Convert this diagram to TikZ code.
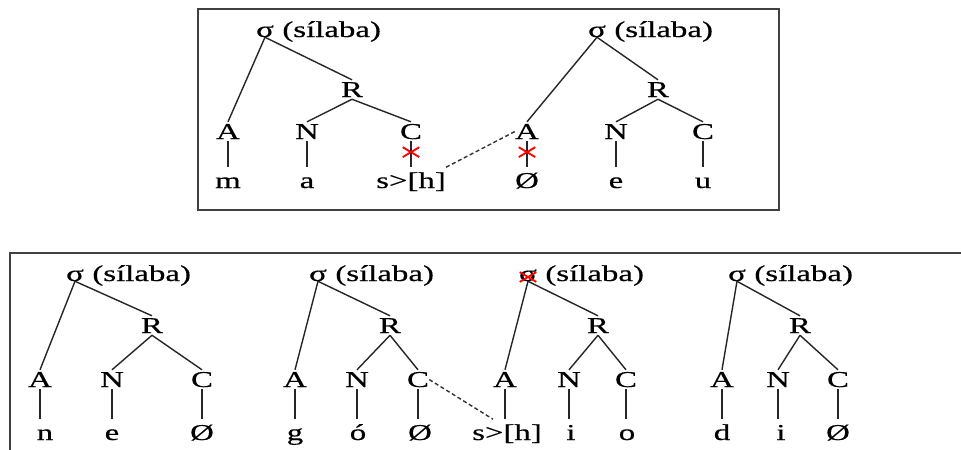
\documentclass[tikz,border=0pt]{standalone}
\usepackage{fontspec}
\setmainfont{Liberation Serif}[FakeStretch=1.45,FakeBold=0.5]
\usetikzlibrary{shapes.misc,calc}
\begin{document}
\begin{tikzpicture}[x=0.75pt,y=-0.75pt,
  lab/.style={font=\fontsize{17}{20}\selectfont, text height=11.2pt, text depth=0pt, inner xsep=0pt, inner ysep=1.5pt, anchor=base},
  leaf/.style={lab, inner ysep=4.2pt},
  sig/.style={lab, inner ysep=0pt, text height=7.8pt},
  word/.style={font=\fontsize{17}{20}\selectfont, inner sep=0pt, anchor=base west},
  edge/.style={line width=1.05pt, black!85},
  dashedge/.style={line width=1.05pt, black!80, dash pattern=on 3pt off 2pt},
  xmark/.style={cross out, draw=red, line width=1.4pt, minimum width=11pt, minimum height=6pt, inner sep=0pt},
  frame/.style={draw=black!75, line width=1.6pt}]
\useasboundingbox (0,0) rectangle (961,450);
\fill[white] (0,0) rectangle (961,450);
% frames
\draw[frame] (198,9) rectangle (779,210);
\draw[frame] (10,451) -- (10,253) -- (962,253);

% ---------- top tree 1 ----------
\node[sig] (ts1) at (265,37) {σ};
\node[word] (ts1t) at ($(ts1.base east)+(8,0)$) {(sílaba)};
\node[lab] (tR1) at (352,97) {R};
\node[lab] (tA1) at (228,139) {A};
\node[lab] (tN1) at (307,139) {N};
\node[lab] (tC1) at (411,139) {C};
\node[leaf] (tl1) at (228,188) {m};
\node[leaf] (tl2) at (307,188) {a};
\node[leaf] (tl3) at (411,188) {s>[h]};
% ---------- top tree 2 ----------
\node[sig] (ts2) at (597,37) {σ};
\node[word] (ts2t) at ($(ts2.base east)+(8,0)$) {(sílaba)};
\node[lab] (tR2) at (658,97) {R};
\node[lab] (tA2) at (527,139) {A};
\node[lab] (tN2) at (616,139) {N};
\node[lab] (tC2) at (703,139) {C};
\node[leaf] (tl4) at (527,188) {Ø};
\node[leaf] (tl5) at (616,188) {e};
\node[leaf] (tl6) at (703,188) {u};

\foreach \s/\r/\a/\n/\c/\la/\lb/\lc in {ts1/tR1/tA1/tN1/tC1/tl1/tl2/tl3, ts2/tR2/tA2/tN2/tC2/tl4/tl5/tl6}{
  \draw[edge] (\s.south) -- (\a.north);
  \draw[edge] (\s.south) -- (\r.north);
  \draw[edge] (\r.south) -- (\n.north);
  \draw[edge] (\r.south) -- (\c.north);
  \draw[edge] (\a.south) -- (\a.south |- \la.north);
  \draw[edge] (\n.south) -- (\n.south |- \lb.north);
  \draw[edge] (\c.south) -- (\c.south |- \lc.north);
}
\draw[dashedge] (tl3.north east) -- (tA2.west);
\node[xmark] (tx1) at ($(tC1.south)!0.42!(tC1.south |- tl3.north)$) {};
\node[xmark] (tx2) at ($(tA2.south)!0.42!(tA2.south |- tl4.north)$) {};

% ---------- bottom trees ----------
\node[sig] (bs1) at (75,281) {σ};
\node[word] (bs1t) at ($(bs1.base east)+(8,0)$) {(sílaba)};
\node[lab] (bR1) at (152,333) {R};
\node[lab] (bA1) at (40,387) {A};
\node[lab] (bN1) at (112,387) {N};
\node[lab] (bC1) at (202,387) {C};
\node[leaf] (bl1) at (45,440) {n};
\node[leaf] (bl2) at (112,440) {e};
\node[leaf] (bl3) at (202,440) {Ø};

\node[sig] (bs2) at (318,281) {σ};
\node[word] (bs2t) at ($(bs2.base east)+(8,0)$) {(sílaba)};
\node[lab] (bR2) at (390,333) {R};
\node[lab] (bA2) at (295,387) {A};
\node[lab] (bN2) at (357,387) {N};
\node[lab] (bC2) at (418,387) {C};
\node[leaf] (bl4) at (295,440) {g};
\node[leaf] (bl5) at (358,440) {ó};
\node[leaf] (bl6) at (420,440) {Ø};

\node[sig] (bs3) at (528,281) {σ};
\node[word] (bs3t) at ($(bs3.base east)+(8,0)$) {(sílaba)};
\node[lab] (bR3) at (598,333) {R};
\node[lab] (bA3) at (505,387) {A};
\node[lab] (bN3) at (569,387) {N};
\node[lab] (bC3) at (626,387) {C};
\node[leaf] (bl7) at (507,440) {s>[h]};
\node[leaf] (bl8) at (571,440) {i};
\node[leaf] (bl9) at (627,440) {o};

\node[sig] (bs4) at (737,281) {σ};
\node[word] (bs4t) at ($(bs4.base east)+(8,0)$) {(sílaba)};
\node[lab] (bR4) at (800,333) {R};
\node[lab] (bA4) at (722,387) {A};
\node[lab] (bN4) at (778,387) {N};
\node[lab] (bC4) at (838,387) {C};
\node[leaf] (bl10) at (722,440) {d};
\node[leaf] (bl11) at (781,440) {i};
\node[leaf] (bl12) at (838,440) {Ø};

\foreach \s/\r/\a/\n/\c/\la/\lb/\lc in {bs1/bR1/bA1/bN1/bC1/bl1/bl2/bl3, bs2/bR2/bA2/bN2/bC2/bl4/bl5/bl6, bs3/bR3/bA3/bN3/bC3/bl7/bl8/bl9, bs4/bR4/bA4/bN4/bC4/bl10/bl11/bl12}{
  \draw[edge] (\s.south) -- (\a.north);
  \draw[edge] (\s.south) -- (\r.north);
  \draw[edge] (\r.south) -- (\n.north);
  \draw[edge] (\r.south) -- (\c.north);
  \draw[edge] (\a.south) -- (\a.south |- \la.north);
  \draw[edge] (\n.south) -- (\n.south |- \lb.north);
  \draw[edge] (\c.south) -- (\c.south |- \lc.north);
}
\draw[dashedge] (bC2.east) -- ($(bl7.north west)!0.3!(bl7.north east)$);
\node[xmark, fill=white] (bx3) at ($(bs3.base)+(0,-4)$) {};
\end{tikzpicture}
\end{document}
